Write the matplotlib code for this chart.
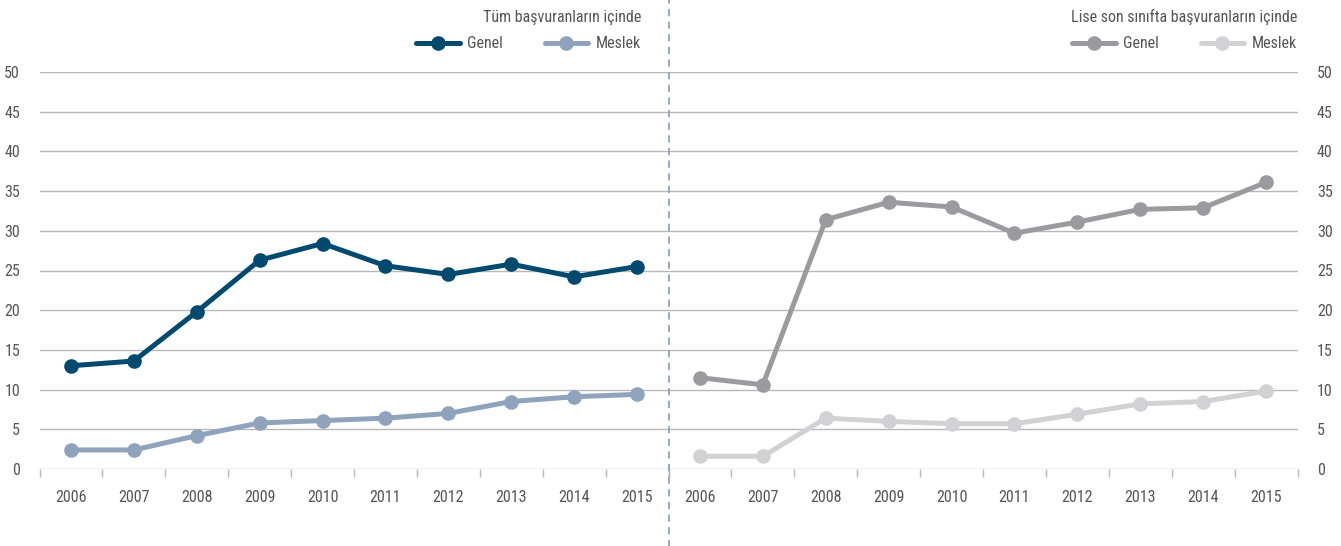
import matplotlib
matplotlib.use("Agg")
import matplotlib.pyplot as plt
from matplotlib import font_manager

years = ["2006", "2007", "2008", "2009", "2010", "2011", "2012", "2013", "2014", "2015"]
all_genel = [13.0, 13.6, 19.8, 26.3, 28.4, 25.6, 24.5, 25.8, 24.2, 25.5]
all_meslek = [2.4, 2.4, 4.2, 5.8, 6.1, 6.4, 7.0, 8.5, 9.1, 9.4]
last_genel = [11.5, 10.6, 31.4, 33.6, 33.0, 29.7, 31.1, 32.7, 32.9, 36.1]
last_meslek = [1.6, 1.6, 6.4, 6.0, 5.7, 5.7, 6.9, 8.2, 8.5, 9.8]
yticks = [0, 5, 10, 15, 20, 25, 30, 35, 40, 45, 50]
titles = ["Tüm başvuranların içinde", "Lise son sınıfta başvuranların içinde"]
series_names = ["Genel", "Meslek"]

avail = {f.name for f in font_manager.fontManager.ttflist}
fam = [f for f in ["Roboto Condensed", "Liberation Sans Narrow", "Open Sans", "DejaVu Sans"] if f in avail]
plt.rcParams['font.family'] = fam

fig = plt.figure(figsize=(13.41, 5.46), dpi=100)
W, H = 1341, 546
bottom = 1 - 469 / H
height = (469 - 72) / H
ax1 = fig.add_axes([39.5 / W, bottom, (668.5 - 39.5) / W, height])
ax2 = fig.add_axes([668.5 / W, bottom, (1297.5 - 668.5) / W, height])

txtc = "#555555"
gridc = "#b8b8b8"
colors = [("#004a70", "#8fa3bd"), ("#9b9b9f", "#d2d2d4")]
data = [(all_genel, all_meslek), (last_genel, last_meslek)]
x = list(range(len(years)))
leg_right = [(641 - 39.5) / 629, (1297 - 668.5) / 629]

for i, ax in enumerate([ax1, ax2]):
    for vals, col, name in zip(data[i], colors[i], series_names):
        ax.plot(x, vals, color=col, lw=3.6, marker='o', markersize=9.5, label=name,
                solid_capstyle='round', zorder=3)
    ax.set_xlim(-0.5, 9.5)
    ax.set_ylim(0, 50)
    ax.set_yticks(yticks)
    ax.yaxis.grid(True, color=gridc, lw=1)
    ax.set_axisbelow(True)
    for s in ax.spines.values():
        s.set_visible(False)
    ax.set_xticks(x)
    ax.set_xticklabels(years)
    ax.set_xticks([v - 0.5 for v in range(len(years) + 1)], minor=True)
    ax.tick_params(axis='x', which='major', length=0, pad=15, labelsize=11.5, labelcolor=txtc)
    ax.tick_params(axis='x', which='minor', length=6, color=gridc, width=1)
    ax.tick_params(axis='y', length=0, labelsize=11.5, labelcolor=txtc)
    leg = ax.legend(loc='center right', bbox_to_anchor=(leg_right[i], 1.071), ncol=2, frameon=False,
                    fontsize=11.5, handlelength=2.7, borderpad=0, borderaxespad=0,
                    columnspacing=2.6, handletextpad=0.5, labelcolor=txtc)
    ax.text(leg_right[i], 1.1385, titles[i], transform=ax.transAxes, ha='right', va='center',
            fontsize=11.5, color=txtc)

ax1.tick_params(axis='y', labelleft=True, pad=14)
ax2.yaxis.tick_right()
ax2.tick_params(axis='y', labelright=True, labelleft=False, pad=14)

ax2.axvline(-0.5, ymin=-0.2, ymax=1.2, clip_on=False, color="#8fa3bd", lw=1.3,
            ls=(0, (4, 3)), zorder=1)

fig.savefig("out.png", dpi=100)
